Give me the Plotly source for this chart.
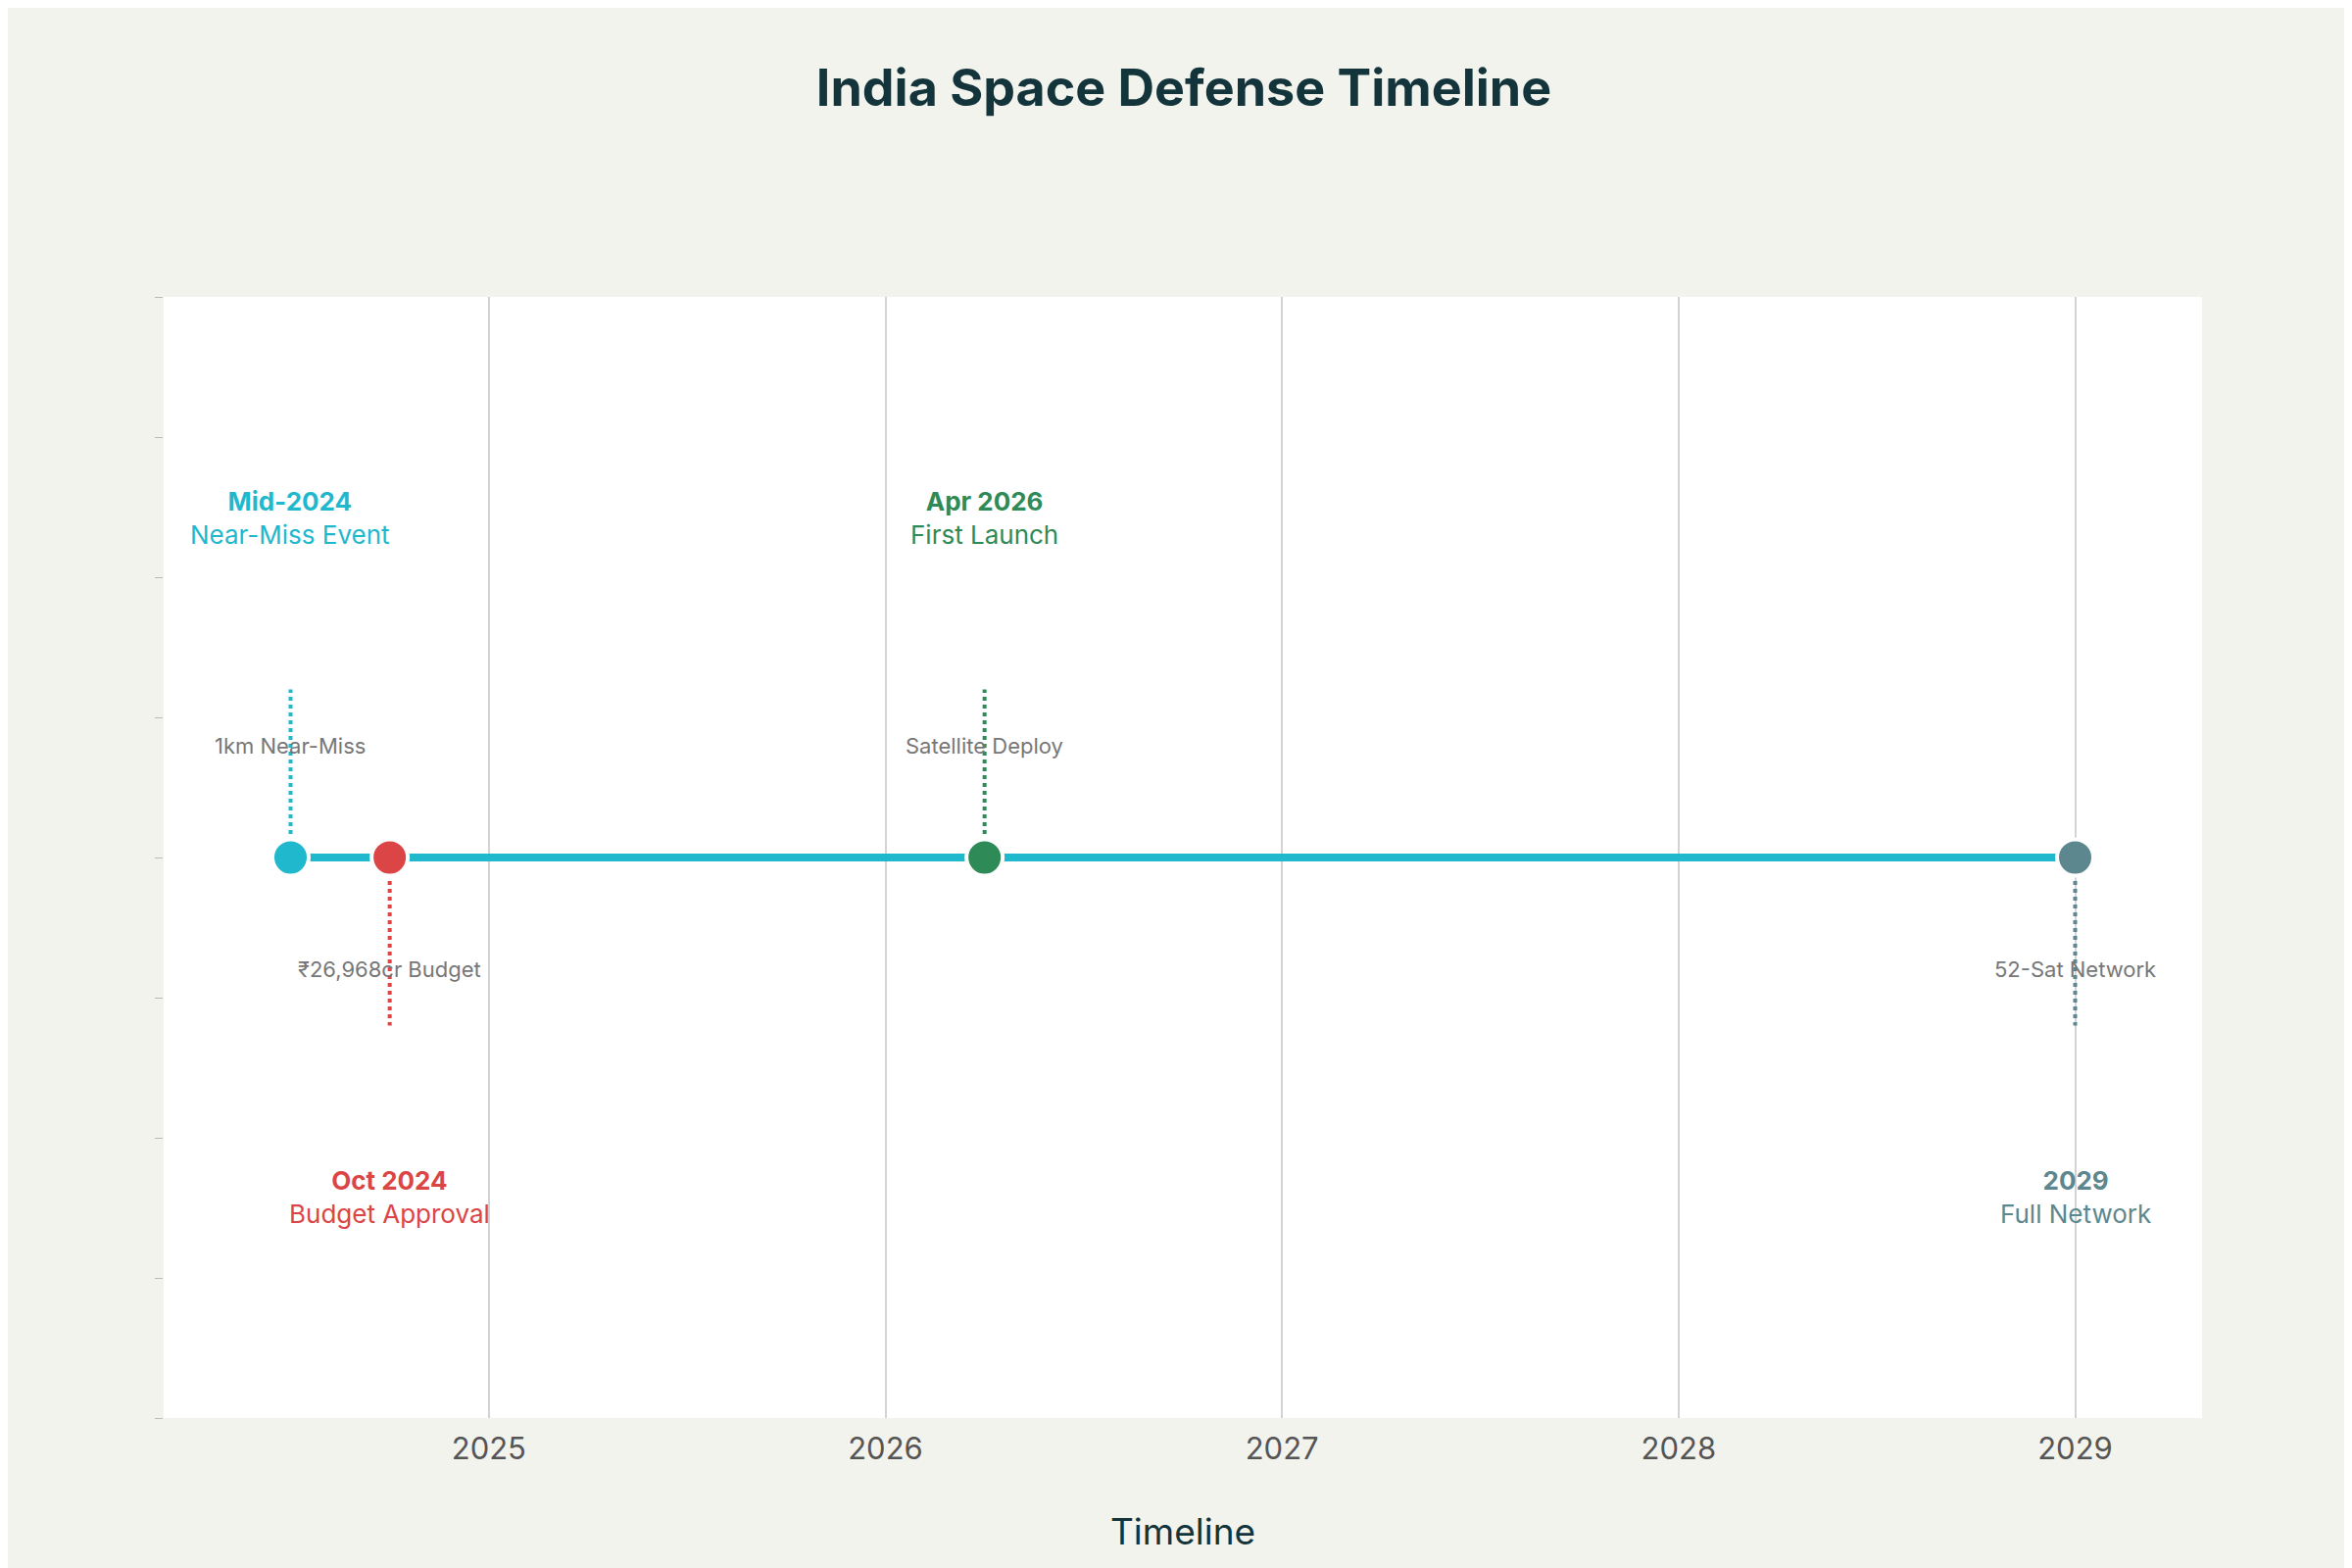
import plotly.graph_objects as go

dates = [2024.5, 2024.75, 2026.25, 2029.0]
titles = ["Mid-2024", "Oct 2024", "Apr 2026", "2029"]
subtitles = ["Near-Miss Event", "Budget Approval", "First Launch", "Full Network"]
details = ["1km Near-Miss", "₹26,968cr Budget", "Satellite Deploy", "52-Sat Network"]
sides = [1, -1, 1, -1]
colors = ["#1FB8CD", "#DB4545", "#2E8B57", "#5D878F"]

fig = go.Figure()
fig.add_trace(go.Scatter(x=[dates[0], dates[-1]], y=[0, 0], mode="lines",
                         line=dict(color="#1FB8CD", width=8), hoverinfo="skip", showlegend=False))
for d, s, c in zip(dates, sides, colors):
    fig.add_trace(go.Scatter(x=[d, d], y=[0, 0.6 * s], mode="lines",
                             line=dict(color=c, width=4, dash="dot"), showlegend=False))
fig.add_trace(go.Scatter(x=dates, y=[0] * len(dates), mode="markers",
                         marker=dict(size=37, color=colors, line=dict(color="white", width=4)),
                         showlegend=False))

ann = []
for d, t, st, dt, s, c in zip(dates, titles, subtitles, details, sides, colors):
    ann.append(dict(x=d, y=1.21 * s, text=f"<b>{t}</b><br>{st}", showarrow=False,
                    font=dict(size=26, color=c), align="center"))
    ann.append(dict(x=d, y=0.4 * s, text=dt, showarrow=False,
                    font=dict(size=22, color="#777777")))

fig.update_layout(
    width=2400, height=1600,
    paper_bgcolor="#F3F3EE", plot_bgcolor="white",
    margin=dict(l=159, r=161, t=295, b=161),
    font=dict(family="Inter, Roboto, sans-serif"),
    title=dict(text="<b>India Space Defense Timeline</b>", x=0.5, y=0.96, yanchor="top",
               font=dict(size=52, color="#13343B")),
    annotations=ann,
    xaxis=dict(range=[2024.18, 2029.32], tickvals=[2025, 2026, 2027, 2028, 2029],
               showgrid=True, gridcolor="#D3D3D3", gridwidth=2, zeroline=False,
               ticklabelstandoff=10,
               tickfont=dict(size=31, color="#555555"),
               title=dict(text="Timeline", font=dict(size=37, color="#13343B"), standoff=55)),
    yaxis=dict(range=[-2, 2], dtick=0.5, showticklabels=False, showgrid=False, zeroline=False,
               ticks="outside", ticklen=8, tickcolor="#BBBBBB"),
)
fig.write_html("out.html")
